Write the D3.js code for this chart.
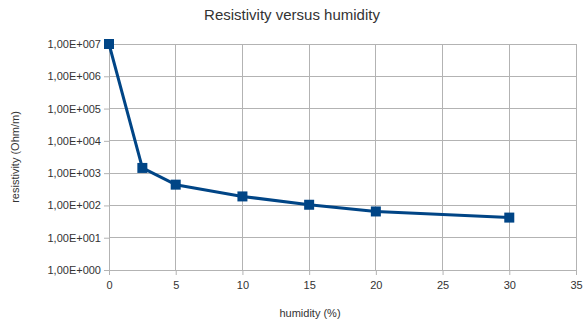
<!DOCTYPE html>
<html>
<head>
<meta charset="utf-8">
<script src="https://cdn.jsdelivr.net/npm/d3@7"></script>
<style>
  body { margin: 0; background: #fff; }
  text { font-family: "Liberation Sans", Arial, sans-serif; fill: #333; }
</style>
</head>
<body>
<div id="chart"></div>
<script>
// Resistivity vs humidity, log scale on Y
const humidity = [0, 2.5, 5, 10, 15, 20, 30];
const resistivity = [1e7, 1.45e3, 440, 190, 105, 65, 42];
const xTicks = [0, 5, 10, 15, 20, 25, 30, 35];
const yTicks = [1e0, 1e1, 1e2, 1e3, 1e4, 1e5, 1e6, 1e7];
const yTickLabels = ["1,00E+000", "1,00E+001", "1,00E+002", "1,00E+003", "1,00E+004", "1,00E+005", "1,00E+006", "1,00E+007"];

const width = 584, height = 323;
const margin = {top: 44, right: 8, bottom: 53, left: 109};
const plotW = width - margin.left - margin.right;
const plotH = height - margin.top - margin.bottom;

const svg = d3.select("#chart").append("svg")
              .attr("width", width)
              .attr("height", height);

const g = svg.append("g")
             .attr("transform", "translate(" + margin.left + "," + margin.top + ")");

const xScale = d3.scaleLinear().domain([0, 35]).range([0, plotW]);
const yScale = d3.scaleLog().domain([1, 1e7]).range([plotH, 0]);

// Grid lines
g.append("g").selectAll("line")
 .data(xTicks).enter().append("line")
 .attr("x1", d => xScale(d)).attr("x2", d => xScale(d))
 .attr("y1", 0).attr("y2", plotH)
 .attr("stroke", "#b3b3b3").attr("stroke-width", 1)
 .attr("shape-rendering", "crispEdges");
g.append("g").selectAll("line")
 .data(yTicks).enter().append("line")
 .attr("x1", 0).attr("x2", plotW)
 .attr("y1", d => yScale(d)).attr("y2", d => yScale(d))
 .attr("stroke", "#b3b3b3").attr("stroke-width", 1)
 .attr("shape-rendering", "crispEdges");

// Axes
const xAxis = g.append("g")
   .attr("transform", "translate(0," + plotH + ")")
   .call(d3.axisBottom(xScale).tickValues(xTicks).tickSize(5).tickPadding(6).tickFormat(d3.format("d")));
const yAxis = g.append("g")
   .call(d3.axisLeft(yScale).tickValues(yTicks).tickSize(5).tickPadding(3)
         .tickFormat((d, i) => yTickLabels[i]));
[xAxis, yAxis].forEach(a => {
  a.select(".domain").attr("stroke", "#b3b3b3");
  a.selectAll(".tick line").attr("stroke", "#b3b3b3");
  a.selectAll(".tick text").attr("font-size", "11px").attr("fill", "#333")
   .attr("font-family", "Liberation Sans, Arial, sans-serif");
});

// Line and markers
const line = d3.line()
               .x((d, i) => xScale(humidity[i]))
               .y(d => yScale(d));
g.append("path")
 .datum(resistivity)
 .attr("fill", "none")
 .attr("stroke", "#004586")
 .attr("stroke-width", 3)
 .attr("stroke-linejoin", "round")
 .attr("d", line);

g.append("g").selectAll("rect")
 .data(resistivity).enter().append("rect")
 .attr("x", (d, i) => xScale(humidity[i]) - 5)
 .attr("y", d => yScale(d) - 5)
 .attr("width", 10).attr("height", 10)
 .attr("fill", "#004586");

// Titles
svg.append("text")
   .attr("x", 292).attr("y", 20)
   .attr("text-anchor", "middle")
   .attr("font-size", "15px")
   .text("Resistivity versus humidity");
svg.append("text")
   .attr("x", 310).attr("y", 317)
   .attr("text-anchor", "middle")
   .attr("font-size", "11px")
   .text("humidity (%)");
svg.append("text")
   .attr("transform", "translate(19,157) rotate(-90)")
   .attr("text-anchor", "middle")
   .attr("font-size", "11px")
   .text("resistivity (Ohm/m)");
</script>
</body>
</html>
